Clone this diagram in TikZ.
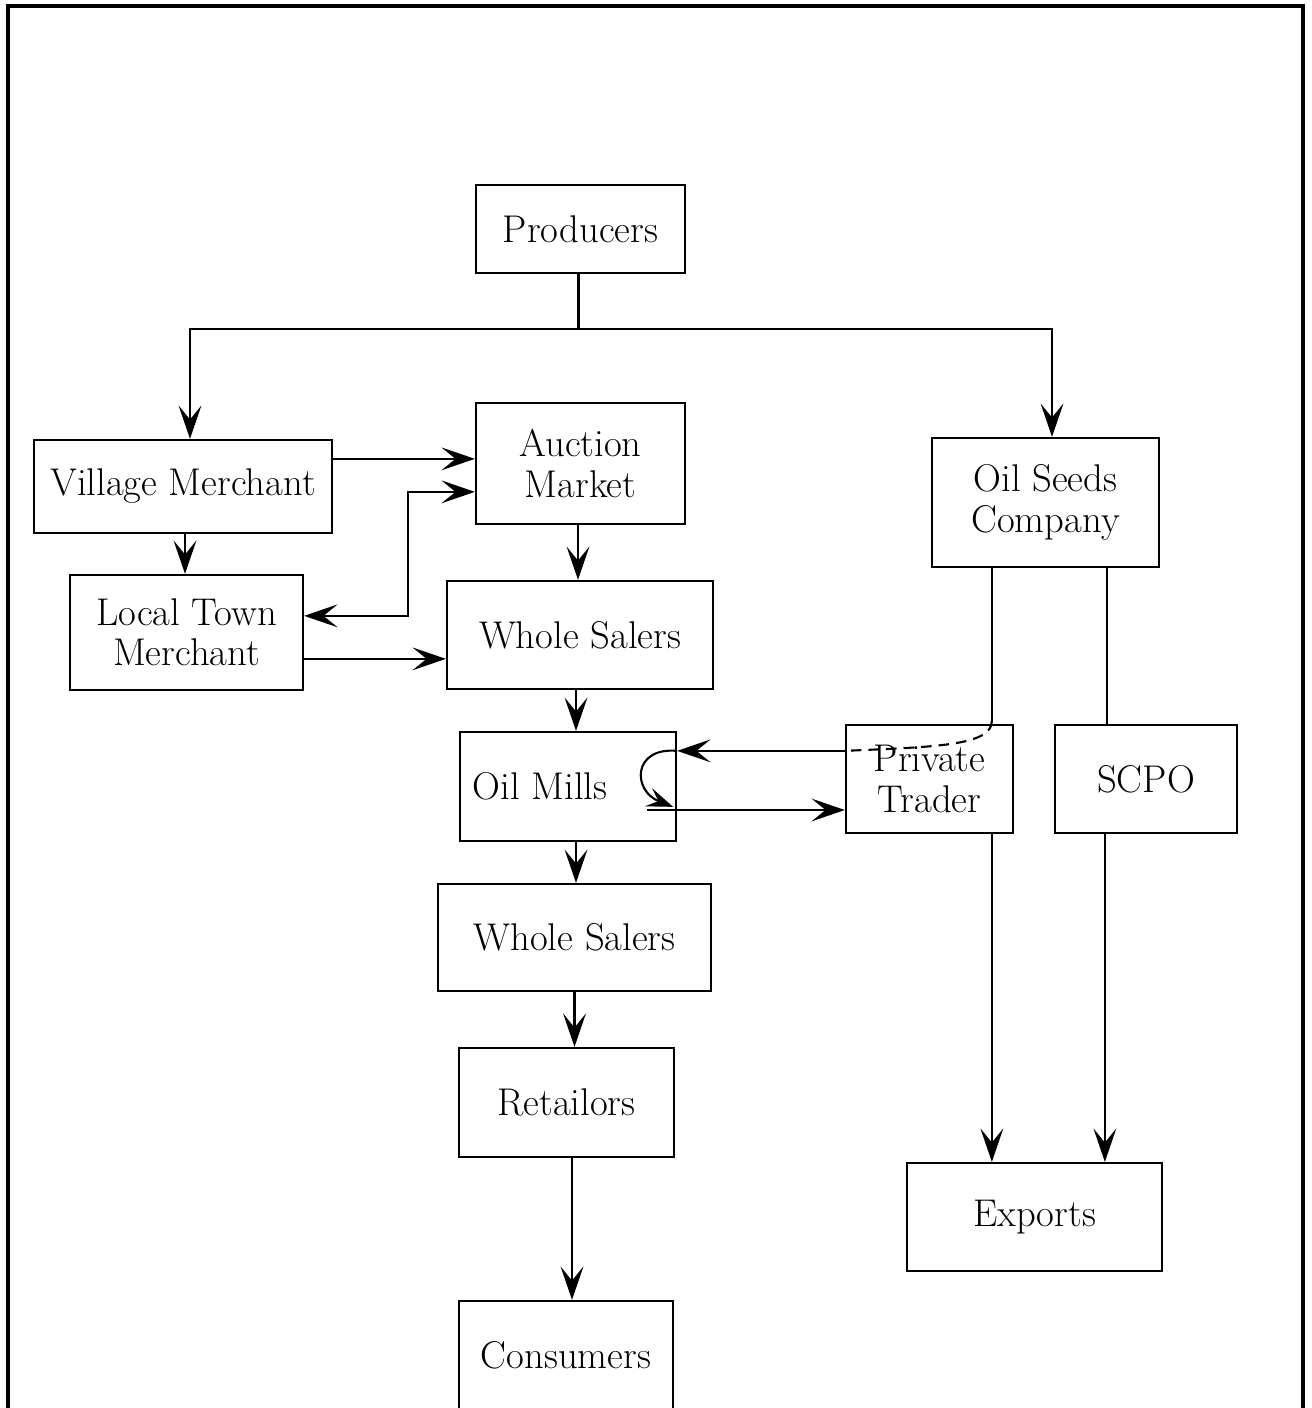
\documentclass[tikz,border=0pt]{standalone}
\usetikzlibrary{arrows.meta,calc}
\begin{document}
\begin{tikzpicture}[x=0.02cm,y=-0.02cm,
  box/.style={draw,line width=1.3pt,inner sep=0pt,align=center,
    font=\fontsize{22}{23}\selectfont},
  conn/.style={line width=1.2pt},
  arr/.style={conn,-{Stealth[length=19pt,width=13pt,inset=8pt]}},
  arrboth/.style={conn,{Stealth[length=19pt,width=13pt,inset=8pt]}-{Stealth[length=19pt,width=13pt,inset=8pt]}},
  frame/.style={line width=1.8pt}]
\useasboundingbox (0,0) rectangle (1311,1408);
\draw[frame] (8,1430) -- (8,6) -- (1303,6) -- (1303,1430);

\node[box,minimum width=209*0.02cm,minimum height=88*0.02cm] (prod) at (580.5,229) {Producers};
\node[box,minimum width=298*0.02cm,minimum height=93*0.02cm] (vm) at (183,486.5) {Village Merchant};
\node[box,minimum width=209*0.02cm,minimum height=121*0.02cm] (am) at (580.5,463.5) {Auction\\Market};
\node[box,minimum width=227*0.02cm,minimum height=129*0.02cm] (osc) at (1045.5,502.5) {Oil Seeds\\Company};
\node[box,minimum width=233*0.02cm,minimum height=115*0.02cm] (ltm) at (186.5,632.5) {Local Town\\Merchant};
\node[box,minimum width=266*0.02cm,minimum height=108*0.02cm] (ws1) at (580,635) {Whole Salers};
\node[box,minimum width=216*0.02cm,minimum height=109*0.02cm,
  label={[font=\fontsize{22}{23}\selectfont,xshift=-28*0.02cm]center:Oil Mills}] (om) at (568,786.5) {};
\node[box,minimum width=167*0.02cm,minimum height=108*0.02cm] (pt) at (929.5,779) {Private\\Trader};
\node[box,minimum width=182*0.02cm,minimum height=108*0.02cm] (scpo) at (1146,779) {SCPO};
\node[box,minimum width=273*0.02cm,minimum height=107*0.02cm] (ws2) at (574.5,937.5) {Whole Salers};
\node[box,minimum width=215*0.02cm,minimum height=109*0.02cm] (ret) at (566.5,1102.5) {Retailors};
\node[box,minimum width=255*0.02cm,minimum height=108*0.02cm] (exp) at (1034.5,1217) {Exports};
\node[box,minimum width=214*0.02cm,minimum height=108*0.02cm] (con) at (566,1355) {Consumers};

% producers split
\coordinate (j) at ($(prod.south)+(-2,55)$);
\draw[conn] ($(prod.south)+(-2,0)$) -- (j);
\draw[arr] (j) -| ($(vm.north)+(7,0)$);
\draw[arr] (j) -| ($(osc.north)+(6.5,0)$);

% left cluster
\coordinate (a1) at ($(vm.north east)+(0,20)$);
\draw[arr] (a1) -- (a1 -| am.west);
\coordinate (b1) at ($(am.north west)+(0,90)$);
\coordinate (b2) at ($(ltm.north east)+(0,42)$);
\coordinate (bx) at ($(b2)+(104,0)$);
\draw[arrboth] (b1) -| (bx) -- (b2);
\coordinate (v1) at ($(vm.south)+(2,0)$);
\draw[arr] (v1) -- (v1 |- ltm.north);
\coordinate (c1) at ($(ltm.north east)+(0,85)$);
\draw[arr] (c1) -- (c1 -| ws1.west);

% central column
\coordinate (m1) at ($(am.south)+(-2.5,0)$);
\draw[arr] (m1) -- (m1 |- ws1.north);
\coordinate (m2) at ($(ws1.south)+(-4,0)$);
\draw[arr] (m2) -- (m2 |- om.north);
\coordinate (m3) at ($(om.south)+(8,0)$);
\draw[arr] (m3) -- (m3 |- ws2.north);
\coordinate (m4) at (ws2.south);
\draw[arr] (m4) -- (m4 |- ret.north);
\coordinate (m5) at ($(ret.south)+(5.5,0)$);
\draw[arr] (m5) -- (m5 |- con.north);

% right cluster
\coordinate (d0) at ($(osc.south west)+(61,0)$);
\coordinate (d1) at ($(d0 |- pt.north)+(0,-3)$);
\coordinate (d2) at ($(pt.north west)+(0,27)$);
\draw[conn] (d0) -- (d1);
\draw[conn,dashed,dash pattern=on 6pt off 4pt] (d1) .. controls ($(d1)+(0,25)$) and ($(d2)+(90,-4)$) .. (d2);
\coordinate (l0) at (d2 -| om.east);
\draw[arr] (d2) -- (l0);
\draw[conn,-{Stealth[length=15pt,width=11pt,inset=6pt]}] (l0) .. controls ($(l0)+(-45,-4)$) and ($(l0)+(-45,40)$) .. ($(l0)+(-4,56)$);
\coordinate (e1) at ($(om.east)+(-30,23.5)$);
\draw[arr] (e1) -- (e1 -| pt.west);

\coordinate (p1) at ($(pt.south west)+(147,0)$);
\draw[arr] (p1) -- (p1 |- exp.north);
\coordinate (s0) at ($(osc.south west)+(176,0)$);
\draw[conn] (s0) -- (s0 |- scpo.north);
\coordinate (s1) at ($(scpo.south west)+(51,0)$);
\draw[arr] (s1) -- (s1 |- exp.north);
\end{tikzpicture}
\end{document}
